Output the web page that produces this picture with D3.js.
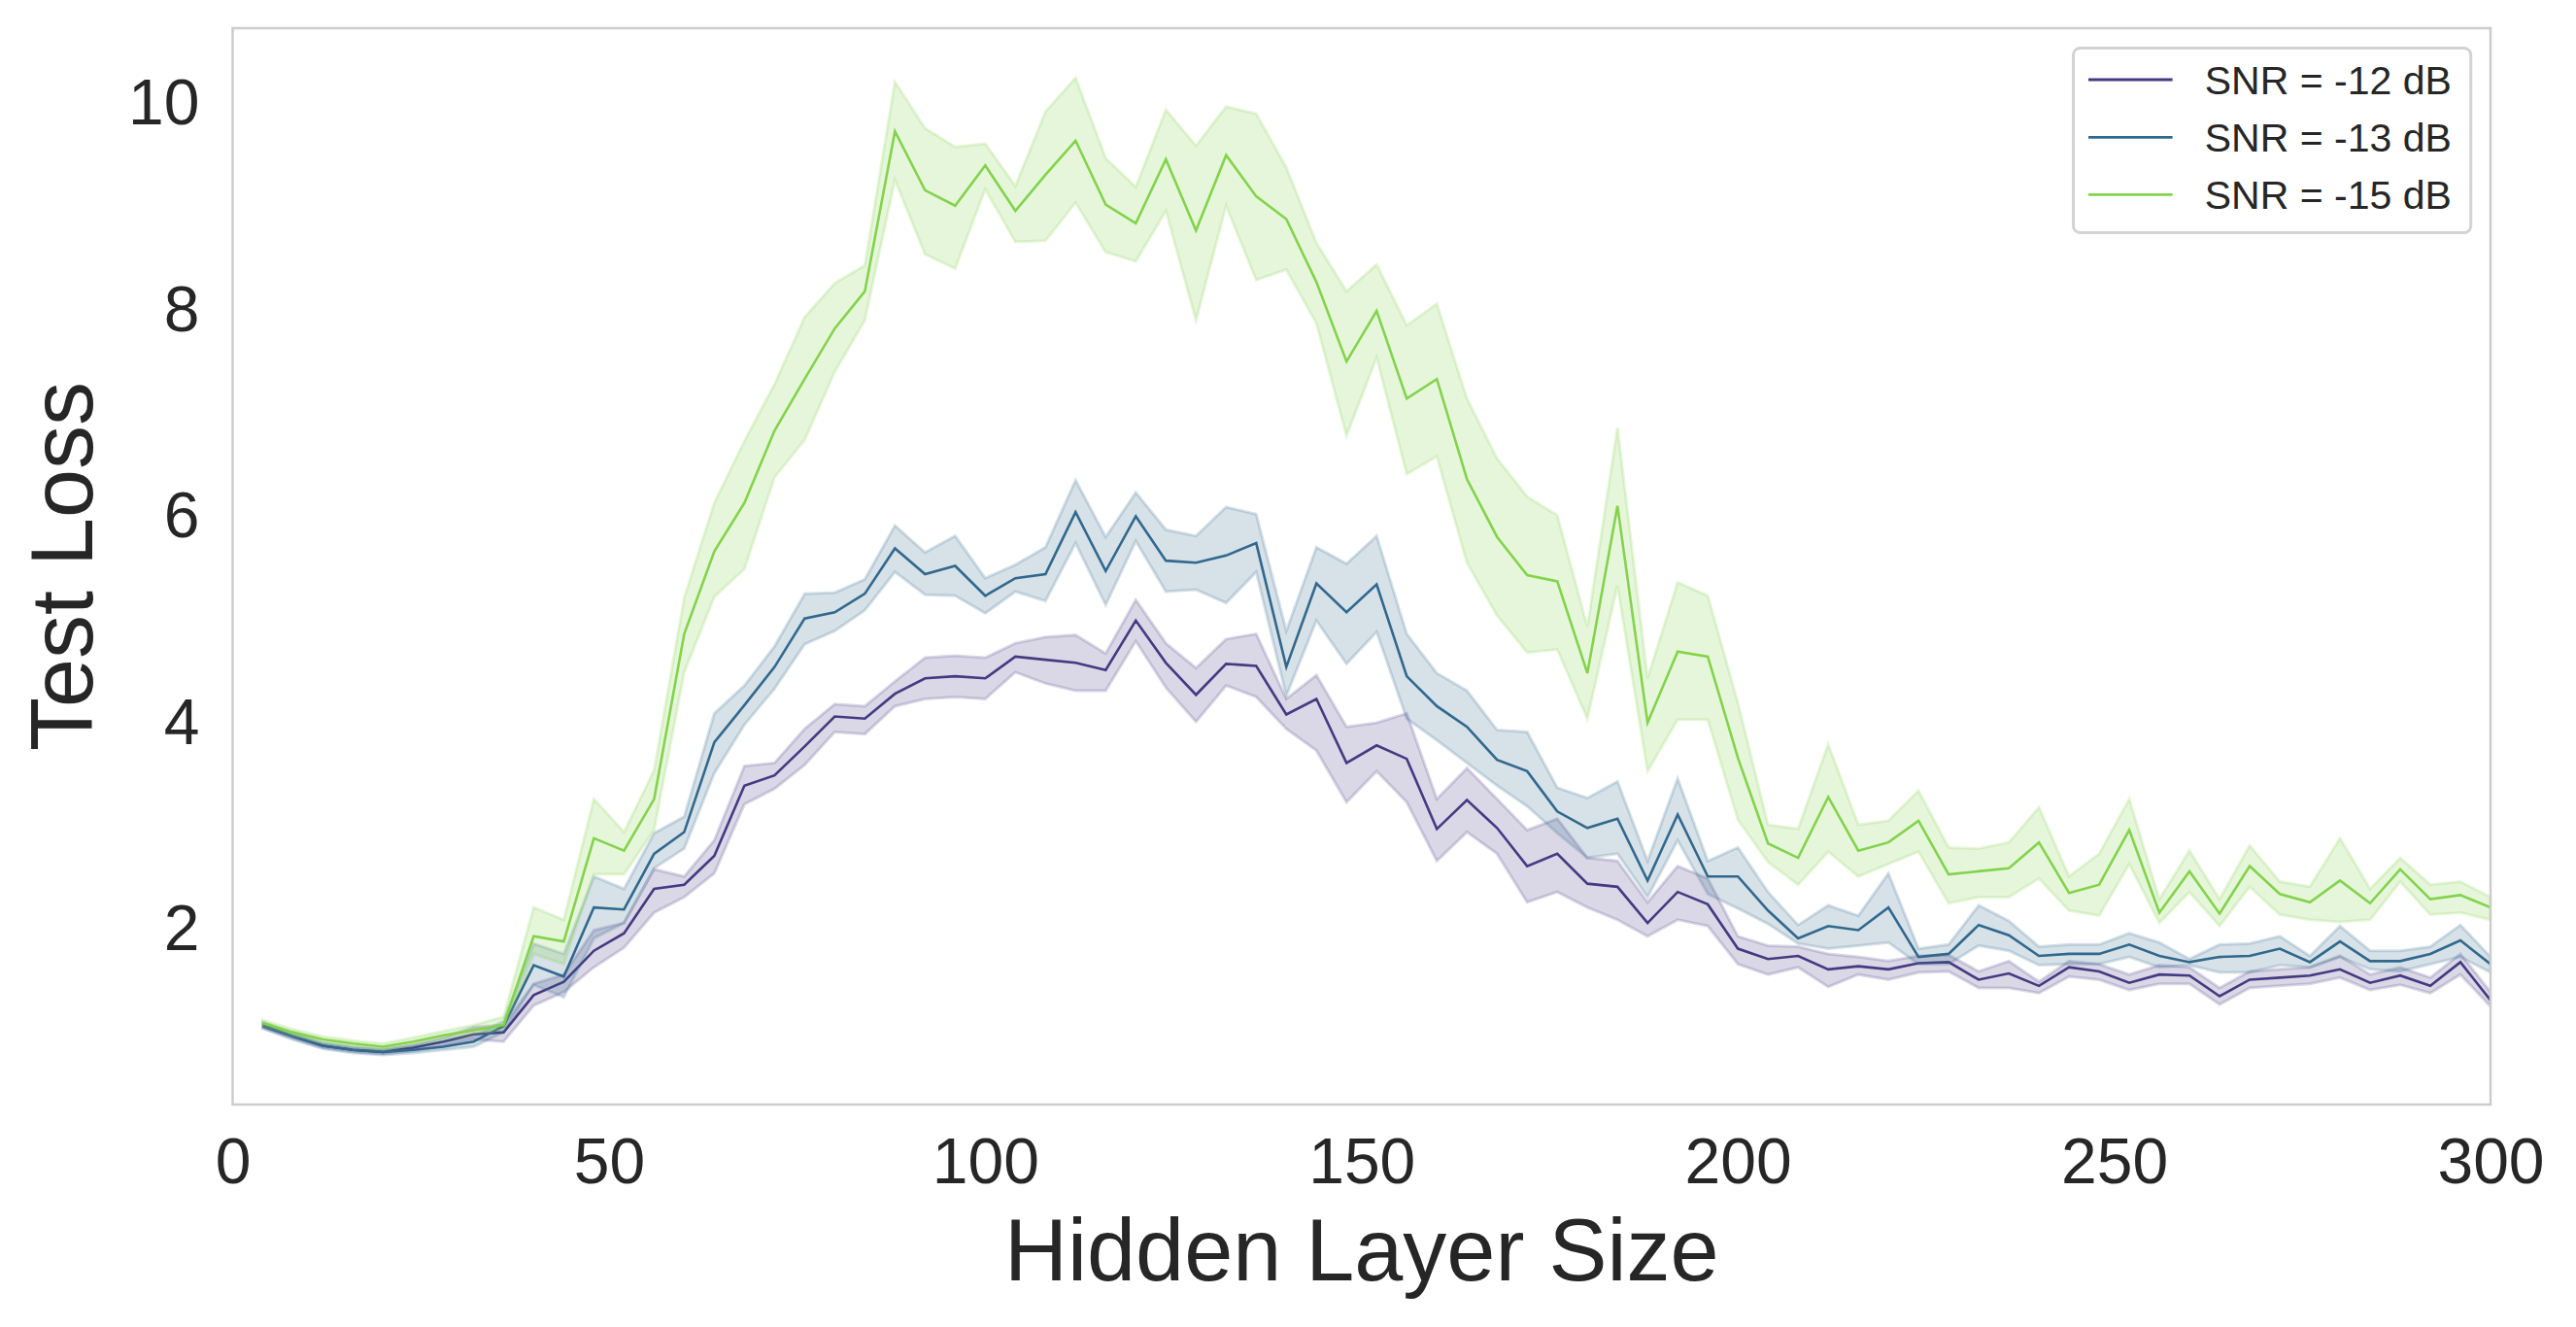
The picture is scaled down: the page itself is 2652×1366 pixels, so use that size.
<!DOCTYPE html>
<html>
<head>
<meta charset="utf-8">
<script src="https://cdn.jsdelivr.net/npm/d3@7/dist/d3.min.js"></script>
<style>
  html, body { margin: 0; padding: 0; background: #ffffff; }
  svg { display: block; }
  text { font-family: "Liberation Sans", Arial, Helvetica, sans-serif; fill: #262626; }
</style>
</head>
<body>
<svg id="chart" width="2652" height="1366"></svg>
<script>
// ---------------- DATA ----------------
const hiddenSizes = [4,8,12,16,20,24,28,32,36,40,44,48,
  52,56,60,64,68,72,76,80,84,88,92,96,100,
  104,108,112,116,120,124,128,132,136,140,144,148,
  152,156,160,164,168,172,176,180,184,188,192,196,200,
  204,208,212,216,220,224,228,232,236,240,244,248,
  252,256,260,264,268,272,276,280,284,288,292,296,300];

const seriesNames = ["SNR = -12 dB", "SNR = -13 dB", "SNR = -15 dB"];
const seriesColors = ["#443a83", "#31688e", "#84d44b"];

// SNR = -12 dB
const mean12 = [1.06,0.96,0.87,0.83,0.81,0.85,0.91,0.98,1.00,1.36,1.49,1.79,
  1.96,2.39,2.43,2.71,3.39,3.49,3.77,4.06,4.04,4.28,4.43,4.45,4.43,
  4.64,4.61,4.58,4.51,4.99,4.58,4.27,4.57,4.55,4.08,4.23,3.61,
  3.78,3.65,2.97,3.25,2.98,2.61,2.73,2.44,2.41,2.06,2.36,2.24,1.81,
  1.71,1.74,1.61,1.64,1.61,1.67,1.68,1.51,1.57,1.45,1.63,1.59,
  1.48,1.56,1.55,1.35,1.51,1.53,1.55,1.61,1.48,1.55,1.45,1.68,1.31];
const upper12 = [1.08,0.98,0.89,0.85,0.83,0.88,0.95,1.05,1.07,1.47,1.56,1.99,
  2.06,2.58,2.51,2.86,3.58,3.61,3.94,4.18,4.16,4.40,4.63,4.65,4.63,
  4.77,4.83,4.85,4.67,5.19,4.77,4.53,4.81,4.86,4.23,4.46,3.96,
  4.00,4.09,3.26,3.56,3.26,2.96,3.07,2.69,2.66,2.26,2.61,2.49,1.93,
  1.84,1.83,1.76,1.73,1.69,1.74,1.75,1.59,1.69,1.49,1.69,1.66,
  1.56,1.65,1.63,1.43,1.59,1.61,1.63,1.74,1.56,1.63,1.53,1.76,1.39];
const lower12 = [1.04,0.94,0.85,0.81,0.79,0.82,0.87,0.93,0.91,1.26,1.39,1.63,
  1.82,2.16,2.31,2.54,3.21,3.36,3.59,3.91,3.89,4.16,4.23,4.25,4.23,
  4.49,4.38,4.31,4.31,4.79,4.34,4.01,4.36,4.25,3.94,3.73,3.23,
  3.53,3.23,2.66,2.94,2.73,2.26,2.36,2.21,2.09,1.93,2.09,2.03,1.66,
  1.56,1.63,1.44,1.56,1.51,1.58,1.59,1.43,1.43,1.38,1.54,1.51,
  1.41,1.47,1.47,1.27,1.43,1.45,1.47,1.53,1.41,1.46,1.38,1.56,1.25];

// SNR = -13 dB
const mean13 = [1.07,0.96,0.87,0.83,0.81,0.83,0.86,0.91,1.06,1.65,1.54,2.21,
  2.19,2.73,2.94,3.81,4.17,4.54,5.01,5.07,5.25,5.69,5.44,5.52,5.23,
  5.40,5.44,6.04,5.47,6.00,5.57,5.55,5.62,5.74,4.54,5.35,5.07,
  5.34,4.45,4.16,3.96,3.64,3.53,3.14,2.98,3.07,2.47,3.11,2.51,2.51,
  2.18,1.91,2.03,1.99,2.21,1.73,1.76,2.04,1.94,1.74,1.76,1.76,
  1.85,1.74,1.68,1.73,1.74,1.81,1.68,1.88,1.69,1.69,1.76,1.89,1.66];
const upper13 = [1.10,0.99,0.90,0.86,0.84,0.87,0.91,0.96,1.11,1.86,1.76,2.51,
  2.39,2.93,3.09,4.09,4.36,4.74,5.25,5.26,5.39,5.91,5.65,5.81,5.40,
  5.53,5.70,6.35,5.80,6.23,5.87,5.81,6.09,6.02,4.89,5.70,5.54,
  5.81,4.86,4.48,4.31,3.93,3.91,3.37,3.27,3.43,2.66,3.46,2.66,2.79,
  2.36,2.04,2.23,2.13,2.54,1.81,1.85,2.23,2.08,1.83,1.85,1.85,
  1.96,1.87,1.71,1.85,1.86,1.93,1.74,2.03,1.79,1.79,1.83,2.04,1.73];
const lower13 = [1.04,0.93,0.84,0.80,0.78,0.80,0.83,0.86,1.00,1.46,1.34,1.91,
  2.06,2.59,2.78,3.51,3.98,4.33,4.76,4.89,5.09,5.46,5.24,5.23,5.06,
  5.27,5.18,5.74,5.14,5.76,5.27,5.29,5.16,5.46,4.26,4.99,4.57,
  4.88,4.04,3.83,3.61,3.39,3.19,2.93,2.69,2.73,2.31,2.86,2.34,2.20,
  2.05,1.86,1.81,1.84,1.87,1.66,1.66,1.84,1.79,1.65,1.66,1.66,
  1.73,1.63,1.65,1.58,1.58,1.65,1.63,1.73,1.61,1.59,1.66,1.73,1.58];

// SNR = -15 dB
const mean15 = [1.09,1.00,0.93,0.89,0.86,0.91,0.97,1.02,1.07,1.93,1.88,2.88,
  2.76,3.26,4.86,5.66,6.13,6.83,7.33,7.82,8.18,9.73,9.16,9.01,9.40,
  8.96,9.31,9.64,9.02,8.84,9.46,8.77,9.50,9.10,8.88,8.27,7.50,
  7.99,7.14,7.33,6.36,5.80,5.43,5.37,4.48,6.10,4.00,4.69,4.64,3.66,
  2.83,2.69,3.28,2.76,2.84,3.05,2.53,2.56,2.59,2.84,2.35,2.43,
  2.96,2.16,2.56,2.15,2.61,2.34,2.26,2.47,2.25,2.58,2.29,2.33,2.21];
const upper15 = [1.12,1.03,0.96,0.92,0.89,0.95,1.01,1.07,1.15,2.21,2.09,3.26,
  2.94,3.54,5.21,6.13,6.73,7.28,7.93,8.26,8.43,10.21,9.76,9.58,9.61,
  9.20,9.92,10.25,9.47,9.19,9.94,9.59,9.97,9.90,9.38,8.65,8.18,
  8.44,7.85,8.06,7.14,6.56,6.19,6.01,4.93,6.86,4.43,5.36,5.23,4.19,
  3.01,2.97,3.79,3.01,3.05,3.34,2.79,2.78,2.84,3.18,2.51,2.73,
  3.26,2.29,2.76,2.29,2.81,2.46,2.41,2.88,2.39,2.69,2.43,2.46,2.31];
const lower15 = [1.06,0.97,0.90,0.86,0.83,0.88,0.93,0.98,1.03,1.76,1.66,2.53,
  2.53,2.96,4.49,5.22,5.49,6.38,6.74,7.40,7.90,9.26,8.54,8.40,9.17,
  8.66,8.67,9.04,8.56,8.47,8.96,7.90,9.01,8.29,8.39,7.87,6.78,
  7.54,6.41,6.58,5.55,5.04,4.68,4.71,4.04,5.33,3.53,4.03,4.03,3.06,
  2.65,2.43,2.75,2.51,2.63,2.75,2.25,2.31,2.31,2.49,2.18,2.13,
  2.63,2.06,2.36,2.03,2.41,2.14,2.09,2.07,2.09,2.46,2.14,2.16,2.09];

const xTicks = [0, 50, 100, 150, 200, 250, 300];
const yTicks = [2, 4, 6, 8, 10];
const xLabel = "Hidden Layer Size";
const yLabel = "Test Loss";

// ---------------- LAYOUT ----------------
const plot = { left: 239.5, right: 2564, top: 29, bottom: 1137 };

const svg = d3.select("#chart");
svg.append("rect").attr("width", 2652).attr("height", 1366).attr("fill", "#ffffff");

const x = d3.scaleLinear().domain([0, 300]).range([plot.left, plot.right]);
const y = d3.scaleLinear().domain([0.30, 10.73]).range([plot.bottom, plot.top]);

const series = [
  { name: seriesNames[0], color: seriesColors[0], mean: mean12, lo: lower12, hi: upper12 },
  { name: seriesNames[1], color: seriesColors[1], mean: mean13, lo: lower13, hi: upper13 },
  { name: seriesNames[2], color: seriesColors[2], mean: mean15, lo: lower15, hi: upper15 }
];

svg.append("defs").append("clipPath").attr("id", "plotclip")
  .append("rect")
  .attr("x", plot.left).attr("y", plot.top)
  .attr("width", plot.right - plot.left).attr("height", plot.bottom - plot.top);

const g = svg.append("g").attr("clip-path", "url(#plotclip)");

const lineGen = d3.line().x(d => x(d.x)).y(d => y(d.v));
const areaGen = d3.area().x(d => x(d.x)).y0(d => y(d.lo)).y1(d => y(d.hi));

series.forEach(s => {
  const pts = hiddenSizes.map((h, i) => ({ x: h, v: s.mean[i], lo: s.lo[i], hi: s.hi[i] }));
  g.append("path")
    .datum(pts)
    .attr("d", lineGen)
    .attr("fill", "none")
    .attr("stroke", s.color)
    .attr("stroke-width", 2.6)
    .attr("stroke-linejoin", "miter");
  g.append("path")
    .datum(pts)
    .attr("d", areaGen)
    .attr("fill", s.color)
    .attr("fill-opacity", 0.2)
    .attr("stroke", s.color)
    .attr("stroke-opacity", 0.2)
    .attr("stroke-width", 3);
});

// frame
svg.append("rect")
  .attr("x", plot.left).attr("y", plot.top)
  .attr("width", plot.right - plot.left).attr("height", plot.bottom - plot.top)
  .attr("fill", "none").attr("stroke", "#cccccc").attr("stroke-width", 2.5);

// axes
const xAxis = svg.append("g")
  .attr("transform", `translate(0,${plot.bottom})`)
  .call(d3.axisBottom(x).tickValues(xTicks).tickFormat(d3.format("d")).tickSize(0).tickPadding(34));
xAxis.select(".domain").remove();
xAxis.selectAll("text").style("font-size", "66px").attr("fill", "#262626")
  .style("font-family", "'Liberation Sans', Arial, sans-serif");

const yAxis = svg.append("g")
  .attr("transform", `translate(${plot.left},0)`)
  .call(d3.axisLeft(y).tickValues(yTicks).tickFormat(d3.format("d")).tickSize(0).tickPadding(34));
yAxis.select(".domain").remove();
yAxis.selectAll("text").style("font-size", "66px").attr("fill", "#262626")
  .style("font-family", "'Liberation Sans', Arial, sans-serif");

// axis labels
svg.append("text")
  .attr("x", (plot.left + plot.right) / 2)
  .attr("y", 1318)
  .attr("text-anchor", "middle")
  .style("font-size", "90px")
  .text(xLabel);

svg.append("text")
  .attr("transform", `translate(95,${(plot.top + plot.bottom) / 2}) rotate(-90)`)
  .attr("text-anchor", "middle")
  .style("font-size", "90px")
  .text(yLabel);

// legend
const legend = svg.append("g");
legend.append("rect")
  .attr("x", 2134.5).attr("y", 49.5)
  .attr("width", 2543.7 - 2134.5).attr("height", 239.5 - 49.5)
  .attr("rx", 7).attr("ry", 7)
  .attr("fill", "#ffffff").attr("fill-opacity", 0.8)
  .attr("stroke", "#d3d3d3").attr("stroke-width", 3);

const rowY = [82, 141.3, 200.3];
series.forEach((s, i) => {
  legend.append("line")
    .attr("x1", 2150).attr("x2", 2236.6)
    .attr("y1", rowY[i]).attr("y2", rowY[i])
    .attr("stroke", s.color).attr("stroke-width", 2.8);
  legend.append("text")
    .attr("x", 2269.7)
    .attr("y", rowY[i] + 15)
    .style("font-size", "41px")
    .text(s.name);
});
</script>
</body>
</html>
